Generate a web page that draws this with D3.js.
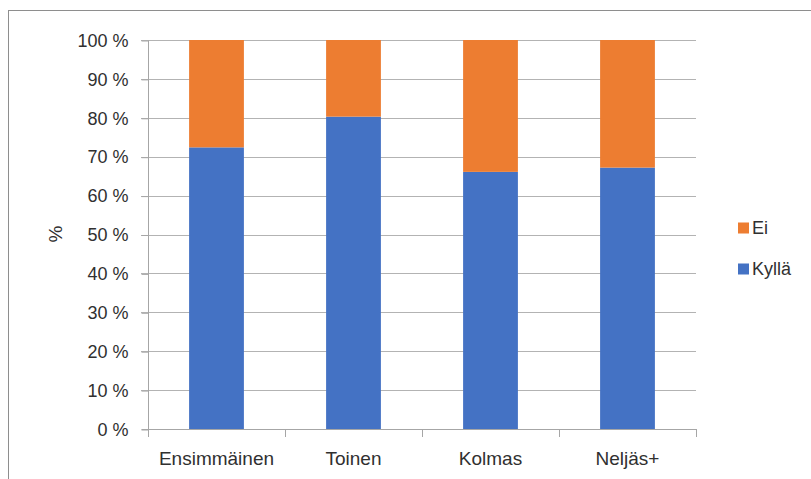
<!DOCTYPE html>
<html><head><meta charset="utf-8">
<script src="https://cdn.jsdelivr.net/npm/d3@7"></script>
<style>html,body{margin:0;padding:0;background:#fff;}svg{display:block;}</style>
</head><body>
<script>
const categories = ["Ensimmäinen", "Toinen", "Kolmas", "Neljäs+"];
const kylla = [72.4, 80.3, 66.1, 67.2];
const ei = [27.6, 19.7, 33.9, 32.8];
const seriesNames = ["Kyllä", "Ei"];
const seriesColors = ["#4472C4", "#ED7D31"];
const yTicks = [0,10,20,30,40,50,60,70,80,90,100];
const yTitle = "%";

const W = 811, H = 479;
const L = 148, R = 696, T = 40, B = 429;
const font = "'Liberation Sans', Arial, sans-serif";
const textColor = "#303030";

const svg = d3.select("body").append("svg").attr("width", W).attr("height", H);

// outer border
svg.append("rect").attr("x", 8.5).attr("y", 10.5).attr("width", W).attr("height", H)
  .attr("fill", "none").attr("stroke", "#8e8e8e").attr("stroke-width", 1);

const x = d3.scaleBand().domain(categories).range([L, R]).paddingInner(0.6).paddingOuter(0.3);
const y = d3.scaleLinear().domain([0, 100]).range([B, T]);

// gridlines
svg.append("g").selectAll("line").data(yTicks.filter(d => d > 0)).join("line")
  .attr("x1", L - 7).attr("x2", R)
  .attr("y1", d => Math.round(y(d)) + 0.5).attr("y2", d => Math.round(y(d)) + 0.5)
  .attr("stroke", "#b3b3b3").attr("stroke-width", 1);

// y axis
const yAxis = svg.append("g").attr("transform", `translate(${L + 0.5},0.5)`)
  .call(d3.axisLeft(y).tickValues(yTicks).tickFormat(d => d + " %").tickSize(7).tickPadding(13));
yAxis.select(".domain").attr("stroke", "#a6a6a6").attr("d", `M-7,${B}H0V${T}`);
yAxis.selectAll(".tick line").attr("stroke", "#a6a6a6");
yAxis.selectAll(".tick text").attr("font-family", font).attr("font-size", 18).attr("fill", textColor);

// stacked bars
const rows = categories.map((c, i) => ({cat: c, Kyllä: kylla[i], Ei: ei[i]}));
const stack = d3.stack().keys(seriesNames)(rows);
svg.append("g").selectAll("g").data(stack).join("g")
  .attr("fill", (d, i) => seriesColors[i])
  .selectAll("rect").data(d => d).join("rect")
  .attr("x", d => x(d.data.cat))
  .attr("width", x.bandwidth())
  .attr("y", d => y(d[1]))
  .attr("height", d => y(d[0]) - y(d[1]));

// x axis
const bounds = [L, ...categories.map(c => x(c) - x.step() * x.paddingInner() / 2 + x.step())];
const xg = svg.append("g");
xg.append("line").attr("x1", L).attr("x2", R).attr("y1", B + 0.5).attr("y2", B + 0.5).attr("stroke", "#a6a6a6");
xg.selectAll("line.tk").data(bounds).join("line").attr("class", "tk")
  .attr("x1", d => Math.round(d) + 0.5).attr("x2", d => Math.round(d) + 0.5)
  .attr("y1", B).attr("y2", B + 8).attr("stroke", "#a6a6a6");
xg.selectAll("text").data(categories).join("text")
  .attr("x", d => x(d) + x.bandwidth() / 2).attr("y", 465)
  .attr("text-anchor", "middle").attr("font-family", font).attr("font-size", 19).attr("fill", textColor)
  .text(d => d);

// y title
svg.append("text").attr("transform", "translate(62,234) rotate(-90)")
  .attr("text-anchor", "middle").attr("font-family", font).attr("font-size", 19).attr("fill", textColor)
  .text(yTitle);

// legend (Ei on top)
const legend = [{name: "Ei", color: seriesColors[1], yc: 228}, {name: "Kyllä", color: seriesColors[0], yc: 269}];
const lg = svg.append("g").selectAll("g").data(legend).join("g");
lg.append("rect").attr("x", 738).attr("y", d => d.yc - 5.5).attr("width", 11).attr("height", 11).attr("fill", d => d.color);
lg.append("text").attr("x", 752).attr("y", d => d.yc).attr("dy", "0.35em")
  .attr("font-family", font).attr("font-size", 18).attr("fill", textColor).text(d => d.name);
</script>
</body></html>
